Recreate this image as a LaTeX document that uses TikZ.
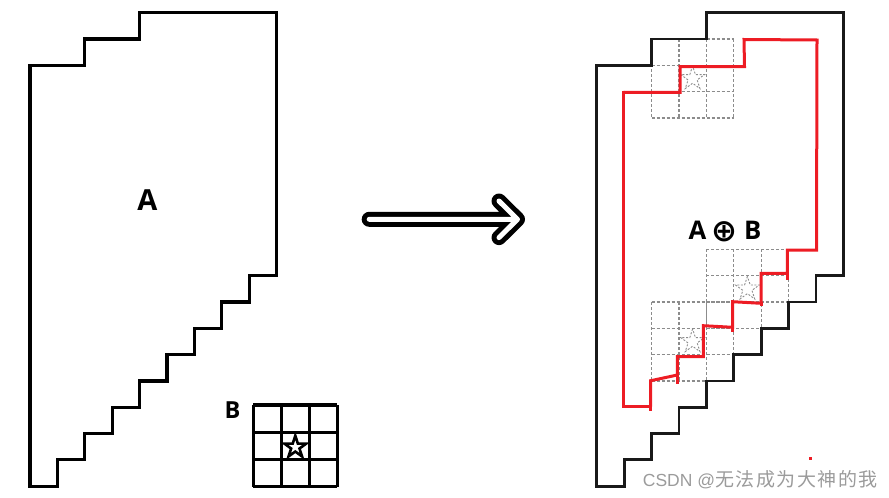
\documentclass[tikz,border=0pt]{standalone}
\usepackage{fontspec}
\setmainfont{Open Sans}
\newfontfamily\cjkfont{Noto Sans CJK SC}
\newfontfamily\wmlatin{Liberation Sans}
\newfontfamily\symfont{DejaVu Sans}
\usetikzlibrary{shapes.geometric}
\definecolor{redpen}{RGB}{237,28,36}
\definecolor{dashgray}{RGB}{140,140,140}
\definecolor{wmgray}{RGB}{155,155,155}
\def\shapepath{(4,0) -- (9,0) -- (9,10) -- (8,10) -- (8,11) -- (7,11) -- (7,12) -- (6,12) -- (6,13) -- (5,13) -- (5,14) -- (4,14) -- (4,15) -- (3,15) -- (3,16) -- (2,16) -- (2,17) -- (1,17) -- (1,18) -- (0,18) -- (0,2) -- (2,2) -- (2,1) -- (4,1) -- cycle}
\tikzset{
  outlineA/.style={draw=black, line width=3.2pt, line join=miter},
  outlineR/.style={draw=black!90, line width=2.8pt, line join=miter},
  kernelline/.style={draw=black, line width=3.2pt},
  dashgrid/.style={draw=dashgray, line width=1.2pt, dash pattern=on 3pt off 2pt},
  kstar/.style={star, star points=5, star point ratio=2.618, minimum size=23pt, inner sep=0pt, draw=black, fill=white, line width=2.6pt},
  dstar/.style={star, star points=5, star point ratio=2.618, minimum size=25pt, inner sep=0pt, dashgrid, line width=0.9pt, dash pattern=on 2pt off 1.6pt},
  redpath/.style={draw=redpen, line width=3pt, line join=miter},
  lbl/.style={font=\bfseries, text=black, inner sep=0pt},
}
\begin{document}
\begin{tikzpicture}[x=1pt,y=-1pt]
\useasboundingbox (0,0) rectangle (889,498);
% ---------- left: set A ----------
\begin{scope}[shift={(30,12.7)}, x=27.4pt, y=-26.3pt]
  \draw[outlineA] \shapepath;
\end{scope}
\node[lbl, font=\bfseries\fontsize{29}{29}\selectfont] (labA) at (147.3,200.5) {A};
% ---------- kernel B ----------
\node[lbl, font=\bfseries\fontsize{23.5}{23.5}\selectfont] (labB) at (232.5,410) {B};
\begin{scope}[shift={(253.3,405)}, x=28pt, y=-27.2pt]
  \foreach \i in {0,1,2,3} {
    \draw[kernelline] (\i,0) -- (\i,3);
    \draw[kernelline] (0,\i) -- (3,\i);
  }
  \node[kstar] (kstar) at (1.5,1.55) {};
\end{scope}
% ---------- arrow ----------
\coordinate (arS) at (369.2,219.3);
\coordinate (arT) at (517.5,219.3);
\coordinate (arU) at (499,201);
\coordinate (arD) at (499,237.6);
\draw[line width=15pt, line cap=round, line join=round, black] (arS) -- (arT) (arU) -- (arT) -- (arD);
\draw[line width=5pt, line cap=round, line join=round, white] (arS) -- (arT) (arU) -- (arT) -- (arD);
% ---------- right: A dilated by B ----------
\begin{scope}[shift={(596.7,12.7)}, x=27.4pt, y=-26.3pt]
  % dashed kernel copies
  \foreach \ox/\oy in {2/1, 4/9, 2/11} {
    \foreach \j in {0,1,2,3} {
      \draw[dashgrid] (\ox+\j,\oy) -- (\ox+\j,\oy+3);
      \draw[dashgrid] (\ox,\oy+\j) -- (\ox+3,\oy+\j);
    }
  }
  \node[dstar] (ds1) at (3.5,2.5) {};
  \node[dstar] (ds2) at (5.5,10.5) {};
  \node[dstar] (ds3) at (3.5,12.5) {};
  \draw[outlineR] \shapepath;
\end{scope}
% red boundary
\draw[redpath] (623.3,90.7) -- (623.3,406.7) -- (650.7,406.7);
\draw[redpath] (623.3,92.3) -- (680,92.3) -- (680,66.7) -- (744.5,66.7) -- (744,39.5) -- (817,40) -- (816.5,250) -- (787.3,250) -- (787.3,273.3) -- (761,273.3) -- (761,303.3) -- (732.7,301.7) -- (732.7,327.3) -- (703.3,325.7) -- (703.3,356.7) -- (677.3,356.7) -- (677.3,375) -- (650.7,380.7) -- (650.7,406.7);
\draw[redpath] (787.3,272) -- (787.3,280);
\draw[redpath] (761,302) -- (761,305.5);
\draw[redpath] (732.7,326) -- (732.7,331.7);
\draw[redpath] (677.3,374) -- (677.3,384);
\draw[redpath] (650.7,405) -- (650.7,410.5);
% label A (+) B
\node[lbl, font=\bfseries\fontsize{25.7}{25.7}\selectfont] (labAB) at (725,231.5) {A\hspace{5pt}{\symfont\bfseries\fontsize{31}{31}\selectfont\raisebox{-1.5pt}{⊕}}\hspace{7pt}B};
% small red mark
\fill[redpen] (809.2,456.8) rectangle (812.2,459.8);
% watermark
\node[anchor=west, inner sep=0pt, text=wmgray] (wm) at (642.7,480) {{\wmlatin\fontsize{17.5}{17.5}\selectfont CSDN @}{\cjkfont\fontsize{19}{19}\selectfont\addfontfeature{LetterSpace=8}无法成为大神的我}};
\end{tikzpicture}
\end{document}
